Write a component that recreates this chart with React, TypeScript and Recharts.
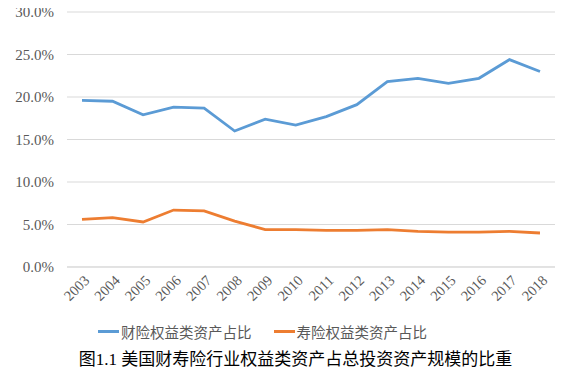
import {LineChart, Line, XAxis, YAxis, CartesianGrid, Legend} from 'recharts';

const years = ['2003', '2004', '2005', '2006', '2007', '2008', '2009', '2010', '2011', '2012', '2013', '2014', '2015', '2016', '2017', '2018'];
const propertyShare = [19.6, 19.5, 17.9, 18.8, 18.7, 16.0, 17.4, 16.7, 17.7, 19.1, 21.8, 22.2, 21.6, 22.2, 24.4, 23.0];
const lifeShare = [5.6, 5.8, 5.3, 6.7, 6.6, 5.4, 4.4, 4.4, 4.3, 4.3, 4.4, 4.2, 4.1, 4.1, 4.2, 4.0];
const yTicks = [0, 5, 10, 15, 20, 25, 30];

const BLUE = '#5B9BD5';
const ORANGE = '#ED7D31';
const SERIF = 'Liberation Serif';
const FONT = 'Liberation Serif, Noto Sans CJK SC';

const data = years.map((y, i) => ({year: y, p: propertyShare[i], l: lifeShare[i]}));

function YTick({x, y, payload}: any) {
    return (
        <text x={x} y={y} dy={5} textAnchor="end" fill="#595959" fontSize={15} style={{fontFamily: SERIF}}>
            {`${Number(payload.value).toFixed(1)}%`}
        </text>
    );
}

function LegendContent() {
    const item = (color: string, label: string, ml: number) => (
        <span style={{display: 'inline-flex', alignItems: 'center', marginLeft: ml}}>
            <span style={{display: 'inline-block', width: 21, height: 3, background: color, marginRight: 2}}/>
            <span style={{fontSize: 14.5, color: '#595959'}}>{label}</span>
        </span>
    );
    return (
        <div style={{width: 575, height: 24, display: 'flex', alignItems: 'center', fontFamily: FONT}}>
            {item(BLUE, '财险权益类资产占比', 98)}
            {item(ORANGE, '寿险权益类资产占比', 22)}
        </div>
    );
}

export default function App() {
    return (
        <div style={{position: 'relative', width: 575, height: 378, margin: -8, background: '#fff', fontFamily: FONT}}>
            <LineChart width={575} height={378} data={data} margin={{top: 12, right: 20, left: 0, bottom: 35}}
                       style={{fontFamily: SERIF}}>
                <CartesianGrid vertical={false} stroke="#d9d9d9"/>
                <XAxis dataKey="year" height={52} interval={0} tickLine={false} axisLine={{stroke: '#d9d9d9'}}
                       padding={{left: 15, right: 15}}
                       angle={-45} textAnchor="end" dy={-1} dx={1}
                       tick={{fill: '#595959', fontSize: 14.5, fontFamily: SERIF}}/>
                <YAxis width={67} domain={[0, 30]} ticks={yTicks} tickLine={false} axisLine={false} tickMargin={7}
                       tick={<YTick/>}/>
                <Legend verticalAlign="bottom" content={() => <LegendContent/>}/>
                <Line dataKey="p" name="财险权益类资产占比" stroke={BLUE} strokeWidth={2.8} dot={false} isAnimationActive={false}/>
                <Line dataKey="l" name="寿险权益类资产占比" stroke={ORANGE} strokeWidth={2.8} dot={false} isAnimationActive={false}/>
            </LineChart>
            <div style={{position: 'absolute', top: 345, left: 0, width: 575, paddingLeft: 16, boxSizing: 'border-box', textAlign: 'center', fontSize: 17, color: '#000'}}>
                图1.1 美国财寿险行业权益类资产占总投资资产规模的比重
            </div>
        </div>
    );
}
